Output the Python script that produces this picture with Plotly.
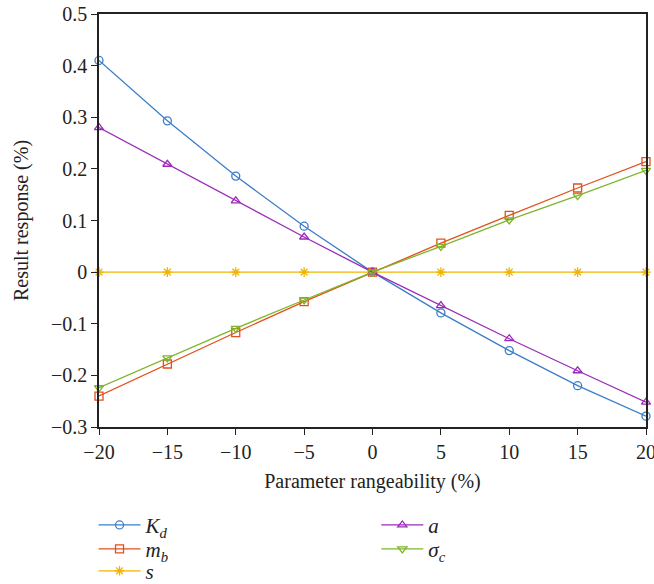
import plotly.graph_objects as go

x_vals = [-20, -15, -10, -5, 0, 5, 10, 15, 20]
kd = [0.410, 0.293, 0.186, 0.089, 0.0, -0.079, -0.152, -0.220, -0.279]
mb = [-0.240, -0.178, -0.117, -0.057, 0.0, 0.056, 0.110, 0.163, 0.214]
s = [0, 0, 0, 0, 0, 0, 0, 0, 0]
a = [0.280, 0.209, 0.138, 0.068, 0.0, -0.065, -0.129, -0.191, -0.252]
sigma_c = [-0.224, -0.166, -0.109, -0.054, 0.0, 0.050, 0.101, 0.148, 0.197]

series = [
    ("<i>K<sub>d</sub></i>", kd, "#3b7ec8", "circle-open", "legend"),
    ("<i>m<sub>b</sub></i>", mb, "#e0521c", "square-open", "legend2"),
    ("<i>s</i>", s, "#f0b400", "asterisk-open", "legend3"),
    ("<i>a</i>", a, "#9a2bb8", "triangle-up-open", "legend4"),
    ("<i>σ<sub>c</sub></i>", sigma_c, "#7fb52c", "triangle-down-open", "legend5"),
]

FONT = "Liberation Serif"
fig = go.Figure()
for name, vals, color, sym, leg in series:
    fig.add_trace(go.Scatter(
        x=x_vals, y=vals, name=name, mode="lines+markers",
        line=dict(color=color, width=1.3),
        marker=dict(symbol=sym, size=8, color=color, line=dict(width=1.3, color=color)),
        legend=leg, cliponaxis=False,
    ))

axis_common = dict(
    showgrid=False, zeroline=False, showline=True, linecolor="#222",
    linewidth=1.5, mirror=True, ticks="outside", ticklen=6, tickwidth=1.3,
    tickcolor="#222", tickfont=dict(family=FONT, size=20, color="#222"),
    automargin=False, ticklabeloverflow="allow",
)

def leg(xp, yp):
    return dict(x=xp, y=yp, xanchor="left", yanchor="middle", bgcolor="rgba(0,0,0,0)",
                font=dict(family=FONT, size=21, color="#222"), itemwidth=42,
                borderwidth=0)

L1 = -0.010
L2 = 0.507
R1, R2, R3 = -0.238, -0.296, -0.349
fig.update_layout(
    width=654, height=584,
    margin=dict(l=99, r=8, t=14, b=157, autoexpand=False),
    plot_bgcolor="white", paper_bgcolor="white",
    font=dict(family=FONT, size=20, color="#222"),
    showlegend=True,
    xaxis=dict(range=[-20, 20], tickvals=[-20, -15, -10, -5, 0, 5, 10, 15, 20],
               title=dict(text="Parameter rangeability (%)", font=dict(family=FONT, size=20), standoff=12),
               **axis_common),
    yaxis=dict(range=[-0.3, 0.5], tickvals=[-0.3, -0.2, -0.1, 0, 0.1, 0.2, 0.3, 0.4, 0.5],
               title=dict(text="Result response (%)", font=dict(family=FONT, size=20), standoff=17),
               **axis_common),
    legend=leg(L1, R1),
    legend2=leg(L1, R2),
    legend3=leg(L1, R3),
    legend4=leg(L2, R1),
    legend5=leg(L2, R2),
)

fig.write_html("out.html", config={"displayModeBar": False},
               post_script="document.body.style.margin='0';document.body.style.overflow='hidden';")
